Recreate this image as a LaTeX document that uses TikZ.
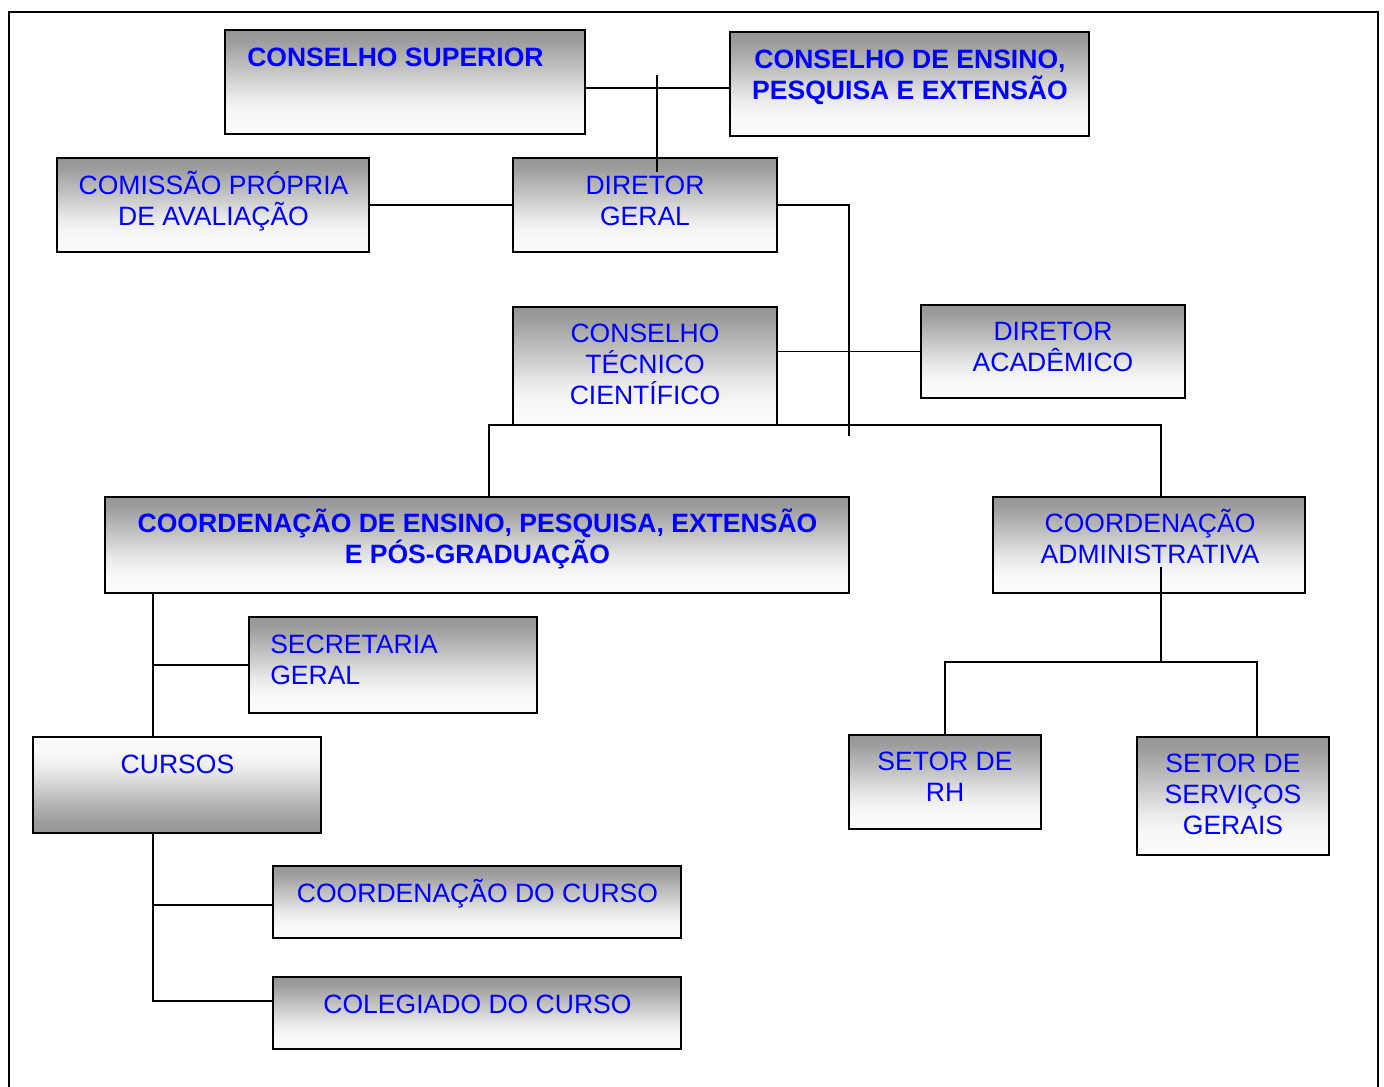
\documentclass[tikz,border=0pt]{standalone}
\usepackage{fontspec}
\setmainfont{Liberation Sans}
\usetikzlibrary{fit,calc}
\definecolor{txtblue}{RGB}{0,0,255}
\definecolor{gA}{RGB}{150,150,150}
\definecolor{gB}{RGB}{156,156,156}
\definecolor{gC}{RGB}{195,195,195}
\definecolor{gD}{RGB}{233,233,233}
\definecolor{gE}{RGB}{247,247,247}
\definecolor{gF}{RGB}{252,252,252}
\pgfdeclareverticalshading{darktop}{100bp}{color(0bp)=(gF); color(25bp)=(gF); color(35bp)=(gE); color(43bp)=(gD); color(56bp)=(gC); color(70bp)=(gB); color(75bp)=(gA); color(100bp)=(gA)}
\pgfdeclareverticalshading{darkbottom}{100bp}{color(0bp)=(gA); color(25bp)=(gA); color(31bp)=(gB); color(45bp)=(gC); color(57.5bp)=(gD); color(66bp)=(gE); color(75bp)=(gF); color(100bp)=(gF)}
\newcommand\myst{\rule{0pt}{21pt}}
\tikzset{
  orgbox/.style={draw=black, line width=1.5pt, inner sep=0pt, shade, shading=darktop},
  orgboxrev/.style={draw=black, line width=1.5pt, inner sep=0pt, shade, shading=darkbottom},
  txt/.style={inner sep=0pt, anchor=north, yshift=21pt, align=center, text=txtblue,
    font=\fontsize{19.9pt}{23.25pt}\selectfont},
  txtl/.style={txt, anchor=north west, align=left},
  bold/.style={font=\fontsize{19.9pt}{23.25pt}\selectfont\bfseries},
  conn/.style={draw=black, line width=1pt}
}
\begin{document}
\begin{tikzpicture}[x=0.75pt,y=-0.75pt]
\useasboundingbox (0,0) rectangle (1384,1086);
\fill[white] (0,0) rectangle (1384,1086);
\draw[line width=2pt] (9,1090) -- (9,12) -- (1378,12) -- (1378,1090);

% boxes
\node[orgbox, fit={(225,30) (585,134)}] (cs) {};
\node[orgbox, fit={(730,32) (1089,136)}] (ce) {};
\node[orgbox, fit={(57,158) (369,252)}] (cpa) {};
\node[orgbox, fit={(513,158) (777,252)}] (dg) {};
\node[orgbox, fit={(513,307) (777,425)}] (ctc) {};
\node[orgbox, fit={(921,305) (1185,398)}] (da) {};
\node[orgbox, fit={(105,497) (849,593)}] (cepe) {};
\node[orgbox, fit={(993,497) (1305,593)}] (cadm) {};
\node[orgbox, fit={(249,617) (537,713)}] (sg) {};
\node[orgboxrev, fit={(33,737) (321,833)}] (cur) {};
\node[orgbox, fit={(849,735) (1041,829)}] (rh) {};
\node[orgbox, fit={(1137,737) (1329,855)}] (ssg) {};
\node[orgbox, fit={(273,866) (681,938)}] (ccur) {};
\node[orgbox, fit={(273,977) (681,1049)}] (col) {};

% texts
\node[txtl, bold] (tcs) at (247,66) {\myst CONSELHO SUPERIOR};
\node[txt, bold] (tce) at (910,68) {\myst CONSELHO DE ENSINO,\\PESQUISA E EXTENSÃO};
\node[txt] (tcpa) at (213.5,194) {\myst COMISSÃO PRÓPRIA\\DE AVALIAÇÃO};
\node[txt] (tdg) at (645,194) {\myst DIRETOR\\GERAL};
\node[txt] (tctc) at (645,342) {\myst CONSELHO\\TÉCNICO\\CIENTÍFICO};
\node[txt] (tda) at (1053,340) {\myst DIRETOR\\ACADÊMICO};
\node[txt, bold] (tcepe) at (477.5,532) {\myst COORDENAÇÃO DE ENSINO, PESQUISA, EXTENSÃO\\E PÓS-GRADUAÇÃO};
\node[txt] (tcadm) at (1150,532) {\myst COORDENAÇÃO\\ADMINISTRATIVA};
\node[txtl] (tsg) at (270,653) {\myst SECRETARIA\\GERAL};
\node[txt] (tcur) at (177.5,773) {\myst CURSOS};
\node[txt] (trh) at (945,770) {\myst SETOR DE\\RH};
\node[txt] (tssg) at (1233,772) {\myst SETOR DE\\SERVIÇOS\\GERAIS};
\node[txt] (tccur) at (477.5,902) {\myst COORDENAÇÃO DO CURSO};
\node[txt] (tcol) at (477.5,1013) {\myst COLEGIADO DO CURSO};

% junction coordinates
\coordinate (j1) at (657,88);
\coordinate (j1top) at (657,75);
\coordinate (j1bot) at (657,172);
\coordinate (j2) at (849,436);
\coordinate (b1) at (489,425);
\coordinate (b2) at (1161,425);
\coordinate (a0) at (1161,567);
\coordinate (a1) at (1161,662);
\coordinate (a2) at (1257,662);
\coordinate (a3) at (945,662);
\coordinate (t0) at (153,593);
\coordinate (t1) at (153,905);
\coordinate (t2) at (153,1001);

% connectors
\draw[conn] (cs.east |- j1) -- (ce.west |- j1);
\draw[conn] (j1top) -- (j1bot);
\draw[conn] (cpa.east) -- (dg.west);
\draw[conn] (dg.east) -| (j2);
\draw[conn] (ctc.east |- da.west) -- (da.west);
\draw[conn] (b1 |- cepe.north) -- (b1) -- (b2) -- (b2 |- cadm.north);
\draw[conn] (a0) -- (a1);
\draw[conn] (rh.north -| a3) -- (a3) -- (a2) -- (a2 |- ssg.north);
\draw[conn] (cepe.south -| t0) -- (cur.north -| t0);
\draw[conn] (t0 |- sg.west) -- (sg.west);
\draw[conn] (cur.south -| t0) -- (t2) -- (col.west |- t2);
\draw[conn] (t1) -- (ccur.west |- t1);
\end{tikzpicture}
\end{document}
